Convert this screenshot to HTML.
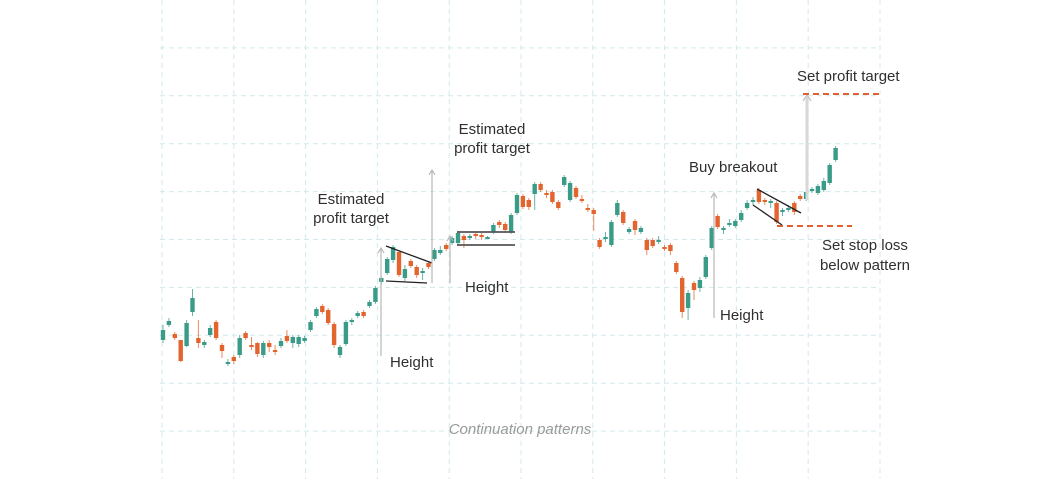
<!DOCTYPE html>
<html><head><meta charset="utf-8">
<style>
html,body{margin:0;padding:0;background:#fff;}
svg{display:block;}
text{font-family:"Liberation Sans",sans-serif;}
</style></head>
<body>
<svg id="chart" width="1042" height="479" viewBox="0 0 1042 479" xmlns="http://www.w3.org/2000/svg">
<g id="grid"></g>
<g id="candles"></g>
<g id="annot">
  <!-- pennant -->
  <line x1="386" y1="246" x2="432" y2="263" stroke="#222" stroke-width="1.3"/>
  <line x1="386" y1="281" x2="427" y2="283" stroke="#222" stroke-width="1.3"/>
  <!-- rectangle -->
  <line x1="457" y1="232" x2="515" y2="232" stroke="#555" stroke-width="1.8"/>
  <line x1="457" y1="245" x2="515" y2="245" stroke="#555" stroke-width="1.8"/>
  <!-- flag -->
  <line x1="757" y1="189" x2="801" y2="213" stroke="#222" stroke-width="1.3"/>
  <line x1="753" y1="205" x2="782" y2="225" stroke="#222" stroke-width="1.3"/>
  <!-- height arrows -->
  <g stroke="#b8b8b8" stroke-width="1.2" fill="none">
    <line x1="381" y1="249" x2="381" y2="356"/>
    <polyline points="378,253 381,248 384,253"/>
    <line x1="432" y1="171" x2="432" y2="283"/>
    <polyline points="429,175 432,170 435,175"/>
    <line x1="450" y1="237" x2="450" y2="283"/>
    <polyline points="447,241 450,236 453,241"/>
    <line x1="714" y1="194" x2="714" y2="318"/>
    <polyline points="711,198 714,193 717,198"/>
  </g>
  <line x1="807" y1="97" x2="807" y2="200" stroke="#d8d8d8" stroke-width="3"/>
  <polyline points="803,101 807,95 811,101" stroke="#c8c8c8" stroke-width="1.5" fill="none"/>
  <line x1="803" y1="94" x2="880" y2="94" stroke="#e2602f" stroke-width="2" stroke-dasharray="6,4"/>
  <line x1="777" y1="226" x2="852" y2="226" stroke="#e2602f" stroke-width="2" stroke-dasharray="6,4"/>
  <g fill="#2f2f2f" font-size="15">
    <text x="351" y="204" text-anchor="middle">Estimated</text>
    <text x="351" y="223" text-anchor="middle">profit target</text>
    <text x="492" y="134" text-anchor="middle">Estimated</text>
    <text x="492" y="153" text-anchor="middle">profit target</text>
    <text x="390" y="367">Height</text>
    <text x="465" y="292">Height</text>
    <text x="720" y="320">Height</text>
    <text x="689" y="172">Buy breakout</text>
    <text x="797" y="81">Set profit target</text>
    <text x="865" y="250" text-anchor="middle">Set stop loss</text>
    <text x="865" y="270" text-anchor="middle">below pattern</text>
  </g>
  <text x="520" y="434" text-anchor="middle" font-size="15" font-style="italic" fill="#9a9a9a">Continuation patterns</text>
</g>
</svg>
<script>
const opens  = [160,175,166,160,154,188,162,155,165,178,155,136,143,145,167,155,157,145,157,150,154,164,157,156,159,170,184,194,190,176,145,156,178,184,188,194,198,218,227,240,248,222,239,233,227,237,241,247,255,257,257,264,262,266,265,262,268,278,276,268,287,304,300,306,316,307,308,298,315,300,312,301,292,290,260,261,255,285,288,268,279,268,260,260,258,253,255,237,222,192,217,212,223,252,284,270,275,274,280,292,298,310,300,297,297,288,290,297,304,301,309,307,310,317,340];
const closes = [170,179,162,139,177,202,157,158,172,162,149,138,139,162,162,154,146,157,153,148,159,159,163,163,162,178,191,188,177,155,153,178,180,187,184,198,212,222,241,253,225,231,234,225,229,233,250,250,251,262,267,260,264,264,263,263,275,275,270,285,305,293,293,316,310,305,298,292,323,317,303,299,291,286,253,263,278,297,277,271,270,272,250,254,260,251,249,228,188,207,210,220,243,272,273,272,277,279,287,297,300,298,298,299,278,290,292,288,301,308,311,314,319,335,352];
const highs  = [175,182,168,160,180,211,180,160,175,180,157,141,145,165,169,163,158,159,160,155,162,170,165,165,164,180,193,196,192,178,155,180,182,189,190,200,214,224,243,255,250,235,241,235,232,239,252,254,257,264,269,266,266,268,267,264,277,280,278,287,307,306,302,318,318,310,310,300,325,319,314,305,296,292,262,268,280,300,290,273,281,274,262,262,264,255,257,239,224,210,219,223,245,274,286,274,281,281,290,300,303,312,302,301,299,292,295,299,306,310,313,316,322,337,354];
const lows   = [157,173,160,138,153,184,152,152,163,160,142,134,136,142,160,150,143,142,148,145,152,157,152,153,157,168,182,186,175,152,142,154,175,182,182,192,196,215,225,237,223,219,232,222,220,231,239,245,249,255,254,252,260,261,260,261,266,272,268,266,285,291,290,290,308,302,296,290,313,298,301,297,288,269,251,258,253,283,275,266,265,266,245,252,256,249,245,226,182,180,200,208,221,250,271,266,273,272,278,290,295,296,295,292,276,284,288,285,299,299,307,305,308,315,338];

const NS='http://www.w3.org/2000/svg';
const X0=163, STEP=5.9;
function xScale(i){return X0+i*STEP;}
function yScale(v){return 500-v;}

const grid=document.getElementById('grid');
for(let k=0;k<=10;k++){
  const x=162+k*71.8;
  const l=document.createElementNS(NS,'line');
  
  
  l.setAttribute('x1',x);l.setAttribute('x2',x);l.setAttribute('y1',0);l.setAttribute('y2',479);
  l.setAttribute('stroke','#d2e9ec');l.setAttribute('stroke-dasharray','5,4');l.setAttribute('stroke-width','1');
  grid.appendChild(l);
}
for(let k=1;k<=9;k++){
  const y=k*47.9;
  const l=document.createElementNS(NS,'line');
  
  
  l.setAttribute('x1',160);l.setAttribute('x2',880);l.setAttribute('y1',y);l.setAttribute('y2',y);
  l.setAttribute('stroke','#d2e9ec');l.setAttribute('stroke-dasharray','5,4');l.setAttribute('stroke-width','1');
  grid.appendChild(l);
}

const cg=document.getElementById('candles');
for(let i=0;i<opens.length;i++){
  const up=closes[i]>=opens[i];
  const col=up?'#3a9c88':'#e4642f';
  const x=xScale(i);
  const g=document.createElementNS(NS,'g');
  
  
  const w=document.createElementNS(NS,'line');
  
  
  w.setAttribute('x1',x);w.setAttribute('x2',x);
  w.setAttribute('y1',yScale(highs[i]));w.setAttribute('y2',yScale(lows[i]));
  w.setAttribute('stroke',col);w.setAttribute('stroke-width','1');w.setAttribute('opacity','0.75');
  g.appendChild(w);
  const top=yScale(Math.max(opens[i],closes[i]));
  const bh=Math.max(2,Math.abs(opens[i]-closes[i]));
  const r=document.createElementNS(NS,'rect');
  
  
  r.setAttribute('x',x-2.2);r.setAttribute('y',top);r.setAttribute('width',4.4);r.setAttribute('height',bh);
  r.setAttribute('fill',col);
  g.appendChild(r);
  cg.appendChild(g);
}
</script>
</body></html>
